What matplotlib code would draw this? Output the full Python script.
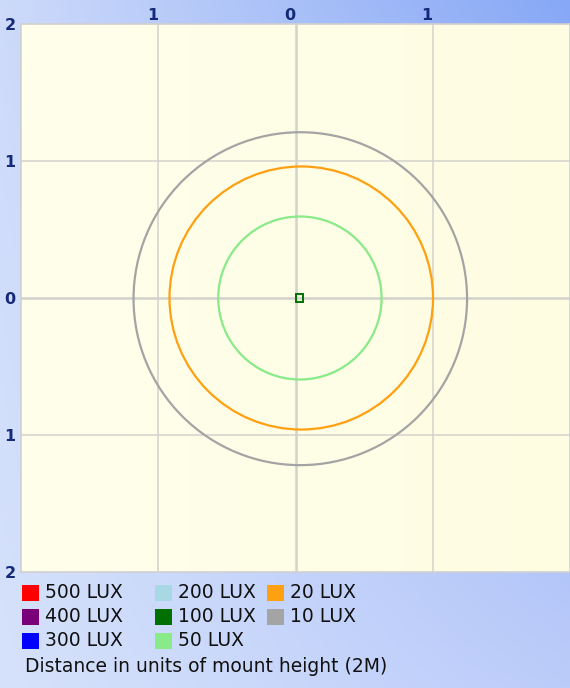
import numpy as np
import matplotlib
matplotlib.use("Agg")
import matplotlib.pyplot as plt
from matplotlib.patches import Circle, Rectangle

# ---------------------------------------------------------------------------
# Donnees : niveaux d'eclairement et contours iso-lux
# ---------------------------------------------------------------------------
niveaux = ["500 LUX", "400 LUX", "300 LUX", "200 LUX",
           "100 LUX", "50 LUX", "20 LUX", "10 LUX"]
couleurs = ["#ff0000", "#7a007a", "#0000ff", "#a8d8e4",
            "#007000", "#88ea88", "#ffa010", "#a4a4a4"]

# contours visibles (cercles) : niveau, centre x, centre y, rayon
contours_niveau = ["10 LUX", "20 LUX", "50 LUX"]
contours_cx = [0.035, 0.042, 0.032]
contours_cy = [-0.005, 0.0, 0.0]
contours_r = [1.215, 0.96, 0.595]

# petit contour 100 LUX au centre (carre)
carre_cx, carre_cy, carre_demi = 0.03, 0.0, 0.028

xticks = [-1, 0, 1]
xtick_labels = ["1", "0", "1"]
yticks = [2, 1, 0, -1, -2]
ytick_labels = ["2", "1", "0", "1", "2"]

legende_titre = "Distance in units of mount height (2M)"

# ---------------------------------------------------------------------------
# Figure
# ---------------------------------------------------------------------------
W, H = 570, 688
fig = plt.figure(figsize=(W / 100, H / 100), dpi=100)

# fond bleu degrade
fond = fig.add_axes([0, 0, 1, 1])
fond.set_axis_off()
gx = np.linspace(0, 1, 200)[None, :]
gy = np.linspace(0, 1, 200)[:, None]
tl = np.array([205, 218, 250]) / 255
tr = np.array([135, 168, 246]) / 255
bl = np.array([214, 226, 251]) / 255
br = np.array([188, 204, 250]) / 255
img = ((1 - gy)[..., None] * ((1 - gx)[..., None] * tl + gx[..., None] * tr)
       + gy[..., None] * ((1 - gx)[..., None] * bl + gx[..., None] * br))
fond.imshow(img, extent=[0, 1, 0, 1], aspect="auto", origin="upper")
fond.set_xlim(0, 1)
fond.set_ylim(0, 1)

# zone du trace
ax = fig.add_axes([21 / W, 1 - 572 / H, 549 / W, 548 / H])
ax.set_xlim(-2, 2)
ax.set_ylim(-2, 2)
jaune = np.linspace(0, 1, 100)[None, :, None]
img2 = (1 - jaune) * np.array([255, 255, 236]) / 255 + jaune * np.array([254, 253, 226]) / 255
img2 = np.repeat(img2, 2, axis=0)
ax.imshow(img2, extent=[-2, 2, -2, 2], aspect="auto", zorder=0)

for v in xticks:
    ax.axvline(v, color="#d2d2cc", lw=1.8 if v == 0 else 1.1, zorder=1)
for v in yticks[1:-1]:
    ax.axhline(v, color="#d2d2cc", lw=1.8 if v == 0 else 1.1, zorder=1)

for niv, cx, cy, r in zip(contours_niveau, contours_cx, contours_cy, contours_r):
    c = couleurs[niveaux.index(niv)]
    ax.add_patch(Circle((cx, cy), r, fill=False, ec=c, lw=1.6, zorder=3))

ax.add_patch(Rectangle((carre_cx - carre_demi, carre_cy - carre_demi),
                       2 * carre_demi, 2 * carre_demi, fill=False,
                       ec=couleurs[niveaux.index("100 LUX")], lw=1.4, zorder=4))

for s in ax.spines.values():
    s.set_color("#d0d0d0")
    s.set_linewidth(1.2)

ax.xaxis.tick_top()
ax.set_xticks(xticks)
ax.set_xticklabels(xtick_labels)
ax.set_yticks(yticks)
ax.set_yticklabels(ytick_labels)
ax.tick_params(length=0, labelsize=11.5, labelcolor="#142a78", pad=4)
ax.tick_params(axis="x", pad=1)
for t in ax.get_xticklabels() + ax.get_yticklabels():
    t.set_fontweight("semibold")
for t in ax.get_xticklabels():
    t.set_horizontalalignment("right")

# legende en bas
for i, (niv, c) in enumerate(zip(niveaux, couleurs)):
    col, ligne = divmod(i, 3)
    x0 = [22, 155, 267][col]
    yc = 593 + 24 * ligne
    fig.patches.append(Rectangle((x0 / W, 1 - (yc + 8) / H), 17 / W, 16 / H,
                                 transform=fig.transFigure, fc=c, ec="none"))
    fig.text((x0 + 23) / W, 1 - yc / H, niv, fontsize=13.5,
             va="center", ha="left", color="#111111")

fig.text(25 / W, 1 - 666 / H, legende_titre, fontsize=13.5,
         va="center", ha="left", color="#111111")

fig.savefig("out.png", dpi=100)
